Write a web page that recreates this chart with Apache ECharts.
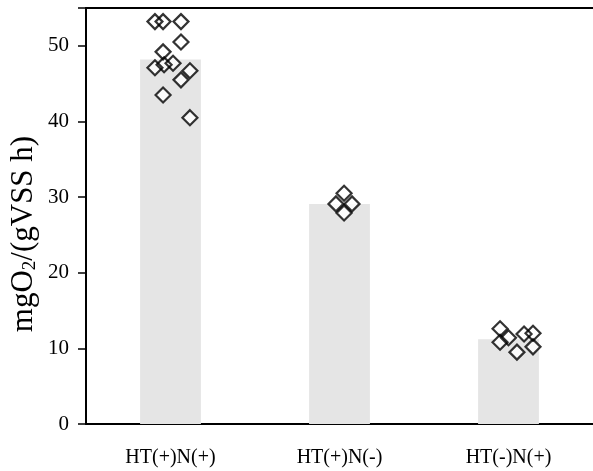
<!DOCTYPE html>
<html>
<head>
<meta charset="utf-8">
<script src="https://cdn.jsdelivr.net/npm/echarts@6/dist/echarts.min.js"></script>
<style>html,body{margin:0;padding:0;background:#fff}#c{width:593px;height:471px}</style>
</head>
<body>
<div id="c"></div>
<script>
const categories = ['HT(+)N(+)', 'HT(+)N(-)', 'HT(-)N(+)'];
const barValues = [48.2, 29.1, 11.2];
const yTicks = [0, 10, 20, 30, 40, 50];
// individual measurements per group and their horizontal jitter (in category units)
const g1Values = [53.2, 53.2, 53.2, 50.5, 49.2, 47.1, 47.5, 47.7, 46.7, 45.5, 43.5, 40.5];
const g1Jitter = [-0.092, -0.044, 0.062, 0.062, -0.044, -0.092, -0.038, 0.015, 0.115, 0.062, -0.044, 0.115];
const g2Values = [30.5, 29.1, 29.1, 27.9];
const g2Jitter = [0.027, -0.021, 0.074, 0.027];
const g3Values = [12.6, 11.4, 10.8, 11.9, 12.0, 9.5, 10.2];
const g3Jitter = [-0.05, 0.0, -0.05, 0.092, 0.145, 0.05, 0.145];

const groups = [[g1Values, g1Jitter], [g2Values, g2Jitter], [g3Values, g3Jitter]];
const pts = [];
groups.forEach(([vals, jit], i) => vals.forEach((v, k) => pts.push([i + jit[k], v])));

const font = 'Liberation Serif, Times New Roman, serif';
const chart = echarts.init(document.getElementById('c'));
chart.setOption({
  animation: false,
  grid: {left: 86, right: 0, top: 8, bottom: 47, containLabel: false, outerBoundsMode: 'none'},
  xAxis: [{
    type: 'category', data: categories, position: 'bottom',
    axisLine: {onZero: false, lineStyle: {color: '#000', width: 2}},
    axisTick: {inside: true, length: 4, lineStyle: {color: '#000', width: 1.5}},
    axisLabel: {color: '#000', fontFamily: font, fontSize: 20, margin: 24},
    splitLine: {show: false}
  }, {
    type: 'value', min: -0.5, max: 2.5, position: 'top',
    axisLine: {show: true, onZero: false, lineStyle: {color: '#000', width: 2}},
    axisTick: {show: false}, axisLabel: {show: false}, splitLine: {show: false}
  }],
  yAxis: {
    type: 'value', min: 0, max: 55, interval: 10, position: 'left',
    axisLine: {show: true, onZero: false, lineStyle: {color: '#000', width: 2}},
    axisTick: {show: true, length: 8, lineStyle: {color: '#000', width: 1.5}},
    axisLabel: {color: '#000', fontFamily: font, fontSize: 21, margin: 17,
      formatter: v => yTicks.includes(v) ? String(v) : ''},
    splitLine: {show: false},
    name: '{a|mgO}{s|2}{a|/(gVSS h)}',
    nameLocation: 'middle', nameGap: 46, nameRotate: 90, nameMoveOverlap: false,
    nameTextStyle: {
      padding: [0, 36, 0, 0],
      rich: {
        a: {fontFamily: font, fontSize: 31, color: '#000'},
        s: {fontFamily: font, fontSize: 19, color: '#000', verticalAlign: 'bottom', padding: [13, 0, 0, 0]}
      }
    }
  },
  series: [{
    type: 'bar', data: barValues, barWidth: '36%', xAxisIndex: 0,
    itemStyle: {color: '#e5e5e5'}
  }, {
    type: 'scatter', xAxisIndex: 1, data: pts, symbol: 'diamond', symbolSize: 15,
    itemStyle: {color: '#fff', borderWidth: 0}, z: 3
  }, {
    type: 'scatter', xAxisIndex: 1, data: pts, symbol: 'diamond', symbolSize: 15,
    itemStyle: {color: 'rgba(0,0,0,0)', borderColor: '#000', borderWidth: 2.2}, z: 4
  }]
});
</script>
</body>
</html>
